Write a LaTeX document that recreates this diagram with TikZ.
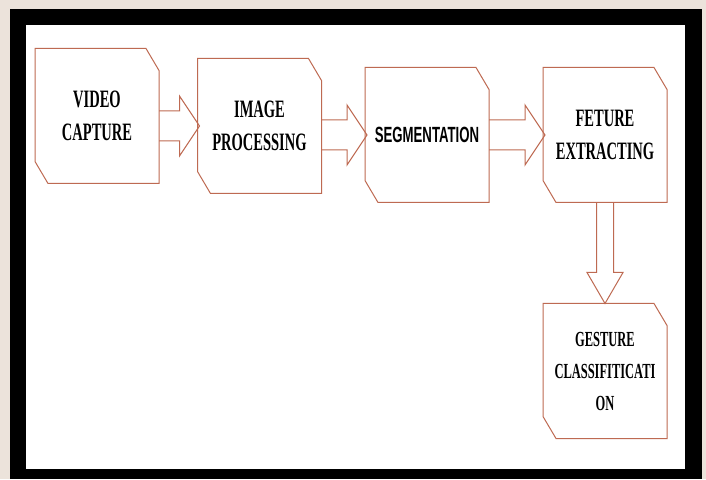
\documentclass[tikz,border=0pt]{standalone}
\usepackage{fontspec}
\newfontfamily\stageserif[FakeStretch=0.58]{Liberation Serif}
\newfontfamily\stagesans[FakeStretch=0.6]{Liberation Sans}
\usetikzlibrary{calc}
\definecolor{boxbrown}{RGB}{190,106,82}
\definecolor{paper}{RGB}{236,227,219}

\tikzset{
    stage/.style={minimum width=124pt, minimum height=135pt, inner sep=0pt, outer sep=0pt,
        align=center, font=\stageserif\bfseries\fontsize{25}{33}\selectfont},
    flowline/.style={draw=boxbrown, line width=1pt, line join=miter},
}

% box with the top right and bottom left corners cut off
\newcommand{\snipbox}[1]{%
    \draw[flowline] (#1.north west) -- ([xshift=-13pt]#1.north east) -- ([yshift=-22pt]#1.north east)
        -- (#1.south east) -- ([xshift=13pt]#1.south west) -- ([yshift=22pt]#1.south west) -- cycle;}

% hollow block arrows between two boxes
\newcommand{\blockright}[2]{%
    \draw[flowline] let \p1=(#1.east), \p2=(#2.west) in
        (\x1,\y2+15pt) -- (\x2-18pt,\y2+15pt) -- (\x2-18pt,\y2+30pt) -- (\x2+2pt,\y2)
        -- (\x2-18pt,\y2-30pt) -- (\x2-18pt,\y2-15pt) -- (\x1,\y2-15pt);}
\newcommand{\blockdown}[2]{%
    \draw[flowline] let \p1=(#1.south), \p2=(#2.north) in
        (\x2-8.5pt,\y1) -- (\x2-8.5pt,\y2+31pt) -- (\x2-18pt,\y2+31pt) -- (\p2)
        -- (\x2+18pt,\y2+31pt) -- (\x2+8.5pt,\y2+31pt) -- (\x2+8.5pt,\y1);}

\begin{document}
\begin{tikzpicture}[x=1pt, y=1pt]
    \useasboundingbox (0, 0) rectangle (706, 479);
    \fill[paper] (0, 0) rectangle (706, 479);
    \fill[black] (10, 0) rectangle (702, 470);
    \fill[white] (26, 10) rectangle (685, 454);

    \node[stage] (capture) at (97, 363) {VIDEO\\CAPTURE};
    \node[stage] (image) at (259.5, 353) {IMAGE\\PROCESSING};
    \node[stage, font=\stagesans\bfseries\fontsize{22}{30}\selectfont] (segment) at (427, 344) {SEGMENTATION};
    \node[stage] (feature) at (605, 344) {FETURE\\EXTRACTING};
    \node[stage, font=\stageserif\bfseries\fontsize{21.5}{32}\selectfont] (gesture) at (605, 108) {GESTURE\\CLASSIFITICATI\\ON};

    \foreach \b in {capture, image, segment, feature, gesture}
        \snipbox{\b};

    \blockright{capture}{image}
    \blockright{image}{segment}
    \blockright{segment}{feature}
    \blockdown{feature}{gesture}
\end{tikzpicture}
\end{document}
